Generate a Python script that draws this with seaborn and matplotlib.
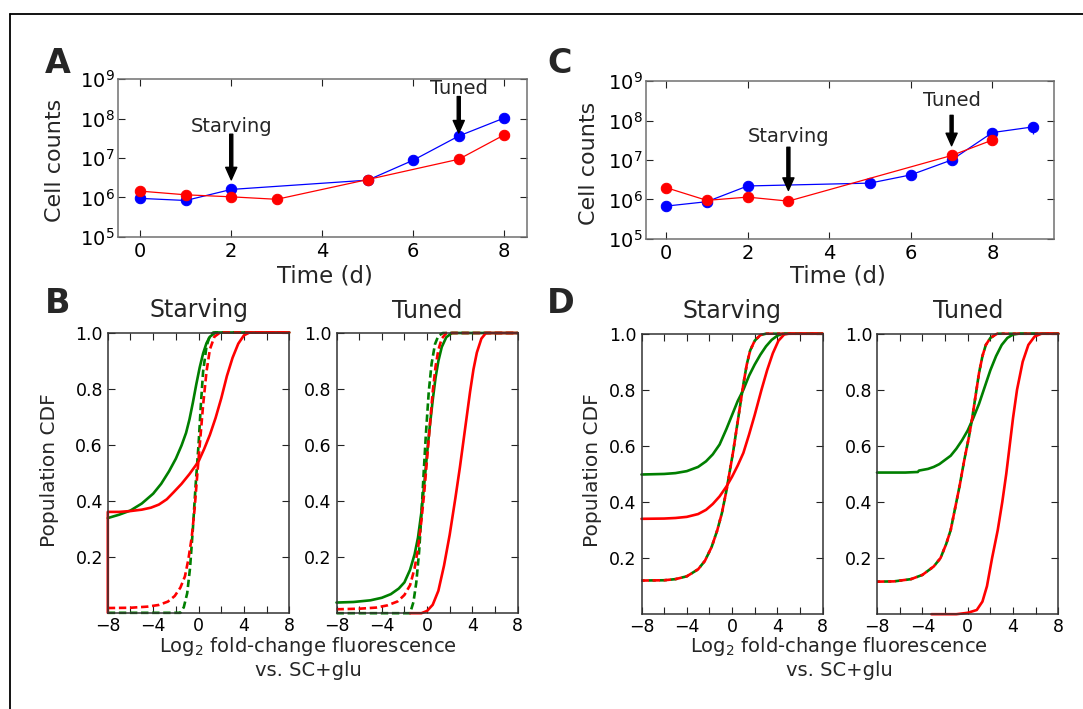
import matplotlib
matplotlib.use("Agg")
import matplotlib.pyplot as plt
import seaborn as sns
from matplotlib.lines import Line2D
from matplotlib.ticker import FixedLocator, NullLocator, LogLocator, LogFormatterMathtext, FormatStrFormatter

# ---- growth curves (panels A and C) ----
days_a_blue = [0, 1, 2, 5, 6, 7, 8]
counts_a_blue = [9.5e5, 8.4e5, 1.6e6, 2.75e6, 8.8e6, 3.6e7, 1.03e8]
err_a_blue = [0, 0, 0, 0, 0, 0, 1.8e7]
days_a_red = [0, 1, 2, 3, 5, 7, 8]
counts_a_red = [1.45e6, 1.17e6, 1.04e6, 9.0e5, 2.85e6, 9.3e6, 3.85e7]

days_c_blue = [0, 1, 2, 5, 6, 7, 8, 9]
counts_c_blue = [6.8e5, 8.8e5, 2.2e6, 2.6e6, 4.2e6, 1.0e7, 4.95e7, 6.9e7]
err_c_blue = [0, 0, 0, 0, 0, 0, 1.5e7, 2.3e7]
days_c_red = [0, 1, 2, 3, 7, 8]
counts_c_red = [2.0e6, 9.5e5, 1.15e6, 9.1e5, 1.3e7, 3.2e7]
err_c_red = [4e5, 0, 0, 0, 0, 0]

# arrows: (day, text y, arrow tail y, arrow tip y)
arrows_a = {"Starving": (2, 6.3e7, 4.0e7, 2.8e6), "Tuned": (7, 5.8e8, 3.6e8, 4.3e7)}
arrows_c = {"Starving": (3, 4.0e7, 2.1e7, 1.7e6), "Tuned": (7, 3.2e8, 1.35e8, 2.3e7)}

# ---- population CDFs, (log2 fold change, cdf) ----
b_starv_green = [(-8, .338), (-7, .35), (-6, .365), (-5, .39), (-4, .425), (-3.3, .46), (-2.6, .505),
                 (-2, .55), (-1.5, .597), (-1.1, .642), (-0.8, .69), (-0.5, .75), (-0.2, .815), (0.1, .875),
                 (0.4, .925), (0.7, .962), (1.0, .985), (1.5, 1.0), (8, 1.0)]
b_starv_red = [(-8, 0), (-8, .36), (-7, .36), (-6, .363), (-5, .368), (-4.2, .375), (-3.5, .386), (-2.8, .405),
               (-2.2, .43), (-1.5, .46), (-0.8, .495), (0, .54), (0.5, .585), (1, .635), (1.5, .695), (2, .765),
               (2.5, .845), (3, .91), (3.5, .96), (4, .99), (4.5, 1.0), (8, 1.0)]
b_starv_green_ref = [(-8, 0), (-1.6, 0), (-1.3, .02), (-1.0, .07), (-0.75, .16), (-0.5, .3), (-0.25, .46),
                     (0, .6), (0.2, .74), (0.4, .86), (0.7, .95), (1.0, .99), (1.3, 1.0), (8, 1.0)]
b_starv_red_ref = [(-8, .017), (-6, .018), (-4.5, .022), (-3.5, .028), (-2.7, .04), (-2.1, .06), (-1.6, .09),
                   (-1.2, .13), (-0.9, .19), (-0.6, .27), (-0.35, .37), (-0.1, .5), (0.15, .62), (0.4, .74),
                   (0.7, .86), (1.0, .94), (1.4, .985), (1.9, 1.0), (8, 1.0)]

b_tuned_green = [(-8, .038), (-6.5, .04), (-5, .046), (-4, .055), (-3.2, .068), (-2.5, .088), (-2, .11),
                 (-1.5, .155), (-1.1, .21), (-0.8, .27), (-0.5, .36), (-0.25, .46), (0, .57), (0.25, .67),
                 (0.5, .76), (0.75, .84), (1.0, .9), (1.3, .95), (1.7, .985), (2.2, 1.0), (8, 1.0)]
b_tuned_red = [(-1.5, 0), (-0.5, 0), (0, .008), (0.5, .03), (1, .08), (1.5, .17), (2, .28), (2.5, .41),
               (2.9, .52), (3.2, .61), (3.5, .7), (3.8, .79), (4.1, .87), (4.4, .93), (4.8, .98), (5.2, 1.0),
               (8, 1.0)]
b_tuned_green_ref = [(-8, 0), (-1.5, 0), (-1.2, .04), (-0.95, .11), (-0.7, .22), (-0.5, .35), (-0.3, .5),
                     (-0.1, .64), (0.15, .79), (0.4, .89), (0.7, .96), (1.0, .99), (1.4, 1.0), (8, 1.0)]
b_tuned_red_ref = [(-8, .014), (-6, .016), (-4.5, .02), (-3.5, .028), (-2.6, .042), (-2, .065), (-1.5, .1),
                   (-1.1, .16), (-0.8, .23), (-0.5, .33), (-0.25, .43), (0, .55), (0.25, .67), (0.5, .79),
                   (0.75, .88), (1.0, .94), (1.3, .98), (1.7, 1.0), (8, 1.0)]

d_starv_green = [(-8, .498), (-6, .5), (-5, .503), (-4, .51), (-3, .525), (-2.3, .545), (-1.7, .57),
                 (-1.1, .605), (-0.5, .66), (0, .71), (0.5, .76), (1, .8), (1.5, .85), (2, .89), (2.5, .925),
                 (3, .955), (3.5, .978), (4, .993), (4.5, 1.0), (8, 1.0)]
d_starv_red = [(-8, .34), (-6, .341), (-5, .343), (-4, .347), (-3, .357), (-2.3, .372), (-1.7, .393),
               (-1.1, .42), (-0.5, .455), (0, .49), (0.5, .53), (1, .575), (1.5, .64), (2, .71), (2.6, .8),
               (3.1, .87), (3.6, .93), (4.1, .975), (4.6, .997), (5, 1.0), (8, 1.0)]
# green and red reference curves coincide in panel D
d_starv_ref = [(-8, .12), (-6, .121), (-5, .125), (-4, .135), (-3, .16), (-2.4, .19), (-1.8, .24), (-1.3, .3),
               (-0.9, .36), (-0.5, .44), (-0.2, .51), (0.1, .58), (0.4, .66), (0.7, .74), (1, .82), (1.3, .89),
               (1.6, .94), (2, .975), (2.5, .995), (3, 1.0), (8, 1.0)]

d_tuned_green = [(-8, .505), (-5.5, .505), (-4.4, .507), (-4.3, .512), (-3.5, .518), (-3, .525), (-2.5, .535),
                 (-2, .55), (-1.5, .565), (-1, .59), (-0.5, .62), (0, .655), (0.5, .7), (1, .75), (1.5, .81),
                 (2, .87), (2.5, .92), (3, .96), (3.5, .985), (4, .997), (4.5, 1.0), (8, 1.0)]
d_tuned_red = [(-3.2, 0), (-1, 0), (0, .005), (0.8, .015), (1.3, .045), (1.7, .1), (2.15, .2), (2.65, .3),
               (3.05, .4), (3.4, .5), (3.7, .6), (4.0, .7), (4.35, .8), (4.85, .9), (5.35, .96), (5.9, .99),
               (6.5, 1.0), (8, 1.0)]
d_tuned_ref = [(-8, .116), (-6.5, .117), (-5, .125), (-4, .14), (-3, .17), (-2.4, .2), (-1.9, .25), (-1.5, .3),
               (-1.1, .38), (-0.7, .46), (-0.3, .55), (0.1, .63), (0.4, .7), (0.7, .78), (1.0, .86), (1.3, .92),
               (1.6, .96), (2.0, .985), (2.6, 1.0), (8, 1.0)]

GREEN = "#007f00"
RED = "#ff0000"
BLUE = "#0000ff"

sns.set_style("ticks")
plt.rcParams["font.family"] = ["DejaVu Sans"]
plt.rcParams["mathtext.default"] = "regular"

W, H = 1083, 709
fig = plt.figure(figsize=(W / 100, H / 100), dpi=100)


def box(x0, y0, x1, y1):
    # pixel box -> figure fraction rect
    return [x0 / W, 1 - y1 / H, (x1 - x0) / W, (y1 - y0) / H]


def style_axes(ax, spine_col, size):
    for s in ax.spines.values():
        s.set_visible(True)
        s.set_color(spine_col)
        s.set_linewidth(1.1)
    ax.tick_params(which="both", direction="in", top=True, right=True, labelsize=size,
                   colors="#222222", labelcolor="black")
    ax.tick_params(which="major", length=5, width=0.8)
    ax.tick_params(which="minor", length=5, width=0.8)


def growth(ax, blue, red, err_b, err_r, arrows, xmax, xticks):
    ax.set_yscale("log")
    sns.lineplot(x=blue[0], y=blue[1], ax=ax, color=BLUE, marker="o", markersize=7.5,
                 markeredgecolor=BLUE, linewidth=0.9, estimator=None, sort=False)
    ax.errorbar(blue[0], blue[1], yerr=err_b, fmt="none", ecolor=BLUE, elinewidth=0.9)
    sns.lineplot(x=red[0], y=red[1], ax=ax, color=RED, marker="o", markersize=7.5,
                 markeredgecolor=RED, linewidth=0.9, estimator=None, sort=False)
    if err_r is not None:
        ax.errorbar(red[0], red[1], yerr=err_r, fmt="none", ecolor=RED, elinewidth=0.9)
    ax.set_xlim(-0.5, xmax)
    ax.set_ylim(1e5, 1e9)
    ax.xaxis.set_major_locator(FixedLocator(xticks))
    ax.yaxis.set_major_locator(LogLocator(base=10, numticks=10))
    ax.yaxis.set_major_formatter(LogFormatterMathtext())
    ax.yaxis.set_minor_locator(NullLocator())
    style_axes(ax, "#707070", 14)
    ax.tick_params(axis="y", pad=2)
    for label, (d, ty, y0, y1) in arrows.items():
        ax.text(d, ty, label, ha="center", va="center", fontsize=14)
        ax.annotate("", xy=(d, y1), xytext=(d, y0),
                    arrowprops=dict(facecolor="black", edgecolor="black", width=2.2,
                                    headwidth=8, headlength=9, shrink=0))
    ax.set_xlabel("")
    ax.set_ylabel("")


def cdf(ax, pts, color, ls, offset=0.0):
    sns.lineplot(x=[p[0] for p in pts], y=[p[1] for p in pts], ax=ax, color=color,
                 linestyle=ls, linewidth=1.9, estimator=None, sort=False, dashes=False)
    line = ax.lines[-1]
    line.set_clip_on(False)
    if ls == "--":
        line.set_linestyle((offset, (2.8, 1.4)))


def cdf_axes(ax, curves, title):
    for pts, color, ls, off in curves:
        cdf(ax, pts, color, ls, off)
    ax.set_xlim(-8, 8)
    ax.set_ylim(0, 1)
    ax.xaxis.set_major_locator(FixedLocator([-8, -4, 0, 4, 8]))
    ax.xaxis.set_minor_locator(FixedLocator([-6, -2, 2, 6]))
    ax.yaxis.set_major_locator(FixedLocator([0.2, 0.4, 0.6, 0.8, 1.0]))
    ax.yaxis.set_major_formatter(FormatStrFormatter("%.1f"))
    style_axes(ax, "#333333", 12.5)
    ax.tick_params(axis="x", pad=3)
    ax.set_title(title, fontsize=17, pad=11)
    ax.set_xlabel("")
    ax.set_ylabel("")


# panel A
ax_a = fig.add_axes(box(117.5, 79, 527, 237))
growth(ax_a, (days_a_blue, counts_a_blue), (days_a_red, counts_a_red), err_a_blue, None,
       arrows_a, 8.5, [0, 2, 4, 6, 8])
# panel C
ax_c = fig.add_axes(box(645.6, 81, 1053.6, 239))
growth(ax_c, (days_c_blue, counts_c_blue), (days_c_red, counts_c_red), err_c_blue, err_c_red,
       arrows_c, 9.5, [0, 2, 4, 6, 8])

# panel B
ax_b1 = fig.add_axes(box(107.8, 332.5, 289.3, 612.8))
cdf_axes(ax_b1, [(b_starv_green, GREEN, "-", 0), (b_starv_green_ref, GREEN, "--", 0),
                 (b_starv_red, RED, "-", 0), (b_starv_red_ref, RED, "--", 0)], "Starving")
ax_b2 = fig.add_axes(box(336.5, 333, 517.6, 613.2))
cdf_axes(ax_b2, [(b_tuned_green, GREEN, "-", 0), (b_tuned_green_ref, GREEN, "--", 0),
                 (b_tuned_red, RED, "-", 0), (b_tuned_red_ref, RED, "--", 0)], "Tuned")
# panel D
ax_d1 = fig.add_axes(box(641.5, 333.7, 822.6, 614.2))
cdf_axes(ax_d1, [(d_starv_green, GREEN, "-", 0), (d_starv_ref, GREEN, "--", 1.6),
                 (d_starv_red, RED, "-", 0), (d_starv_ref, RED, "--", 0)], "Starving")
ax_d2 = fig.add_axes(box(877, 333.7, 1058.4, 614.2))
cdf_axes(ax_d2, [(d_tuned_green, GREEN, "-", 0), (d_tuned_ref, GREEN, "--", 1.6),
                 (d_tuned_red, RED, "-", 0), (d_tuned_ref, RED, "--", 0)], "Tuned")


def ftext(x, y, s, **kw):
    fig.text(x / W, 1 - y / H, s, **kw)


# axis labels
ftext(55, 160, "Cell counts", rotation=90, ha="center", va="center", fontsize=16)
ftext(589, 163, "Cell counts", rotation=90, ha="center", va="center", fontsize=16)
ftext(324.5, 282, "Time (d)", ha="center", va="baseline", fontsize=16.5)
ftext(837.5, 282, "Time (d)", ha="center", va="baseline", fontsize=16.5)
ftext(50, 470, "Population CDF", rotation=90, ha="center", va="center", fontsize=14.5)
ftext(593, 470, "Population CDF", rotation=90, ha="center", va="center", fontsize=14.5)
for cx in (308, 839):
    ftext(cx, 652, "Log$_2$ fold-change fluorescence", ha="center", va="baseline", fontsize=14)
    ftext(cx, 676, "vs. SC+glu", ha="center", va="baseline", fontsize=14)

# panel letters
for s, x, y in (("A", 45, 73), ("C", 547, 73), ("B", 45, 313), ("D", 547, 313)):
    ftext(x, y, s, fontsize=24, fontweight="bold", va="baseline")

# frame lines
fig.add_artist(Line2D([10 / W, 1], [1 - 14 / H, 1 - 14 / H], color="black", lw=1.3,
                      transform=fig.transFigure))
fig.add_artist(Line2D([10 / W, 10 / W], [0, 1 - 14 / H], color="black", lw=1.3,
                      transform=fig.transFigure))

fig.savefig("out.png", dpi=100, facecolor="white")
